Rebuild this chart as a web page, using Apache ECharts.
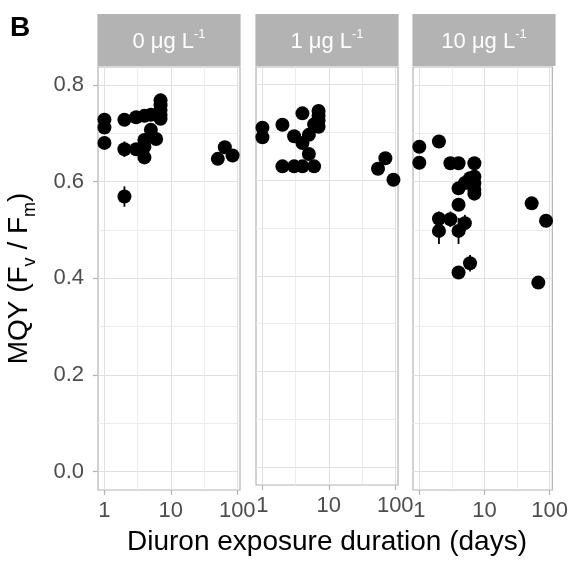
<!DOCTYPE html>
<html>
<head>
<meta charset="utf-8">
<script src="https://cdn.jsdelivr.net/npm/echarts@6/dist/echarts.min.js"></script>
<style>
  html, body { margin: 0; padding: 0; background: #fff; }
  #main { width: 571px; height: 561px; }
</style>
</head>
<body>
<div id="main"></div>
<script>
// facet labels (shown as "<conc> μg L^-1")
var concLabels = ['0', '1', '10'];

// 0 μg/L
var days0 = [1, 1, 1, 2, 2, 2, 3, 3, 4, 4, 4, 4, 5, 5, 6, 7, 7, 7, 7, 7, 51, 65, 85];
var mqy0 = [0.728, 0.712, 0.680, 0.728, 0.667, 0.569, 0.733, 0.667, 0.736, 0.686, 0.672, 0.650,
            0.738, 0.707, 0.688, 0.768, 0.758, 0.748, 0.738, 0.730, 0.647, 0.671, 0.654];
var err0 = [0.014, 0, 0, 0, 0.016, 0.021, 0, 0.012, 0, 0, 0.010, 0,
            0, 0, 0.012, 0, 0, 0, 0, 0, 0, 0, 0];

// 1 μg/L
var days1 = [1, 1, 2, 2, 3, 3, 4, 4, 4, 5, 5, 6, 6, 7, 7, 7, 7, 55, 71, 94];
var mqy1 = [0.710, 0.690, 0.716, 0.629, 0.692, 0.629, 0.740, 0.678, 0.629, 0.695, 0.655,
            0.629, 0.717, 0.745, 0.735, 0.725, 0.712, 0.624, 0.646, 0.601];
var err1 = [0, 0, 0, 0, 0, 0, 0, 0, 0, 0, 0, 0, 0, 0, 0, 0, 0, 0, 0, 0];

// 10 μg/L
var days10 = [1, 1, 2, 2, 2, 3, 3, 4, 4, 4, 4, 4, 5, 5, 6, 6, 7, 7, 7, 7, 7, 53, 67, 88];
var mqy10 = [0.672, 0.639, 0.683, 0.523, 0.498, 0.638, 0.522, 0.638, 0.586, 0.552, 0.498, 0.412,
             0.597, 0.514, 0.607, 0.431, 0.638, 0.610, 0.597, 0.583, 0.575, 0.555, 0.391, 0.519];
var err10 = [0, 0.008, 0, 0.015, 0.027, 0, 0.016, 0, 0, 0, 0.027, 0,
             0, 0.017, 0, 0.017, 0, 0, 0, 0, 0, 0, 0, 0];

var xMajor = [1, 10, 100];
var xMinor = [3.1623, 31.623];
var yMajor = [0, 0.2, 0.4, 0.6, 0.8];
var yMinor = [0.1, 0.3, 0.5, 0.7];

var panels = [
    {days: days0, mqy: mqy0, err: err0},
    {days: days1, mqy: mqy1, err: err1},
    {days: days10, mqy: mqy10, err: err10}
];

var font = 'Liberation Sans, Arial, sans-serif';
var lefts = [98, 256, 413];
var panelW = 142, panelTop = 67, panelH = 423;

var grids = [], xAxes = [], yAxes = [], series = [], graphics = [];

panels.forEach(function(p, i) {
    grids.push({
        left: lefts[i], top: panelTop, width: panelW, height: panelH,
        show: true, borderColor: '#b3b3b3', borderWidth: 1.2, backgroundColor: '#fff'
    });
    // major x
    xAxes.push({
        type: 'log', logBase: 10, gridIndex: i, min: 0.8, max: 110,
        axisLine: {show: false, onZero: false},
        axisTick: {show: true, customValues: xMajor, length: 5, lineStyle: {color: '#b3b3b3', width: 1.2}},
        axisLabel: {show: true, customValues: xMajor, margin: 10, color: '#4d4d4d', fontSize: 22, fontFamily: font,
                    formatter: function(v) { return String(Math.round(v)); }},
        splitLine: {show: true, lineStyle: {color: '#e0e0e0', width: 1}},
        name: i === 1 ? 'Diuron exposure duration (days)' : '',
        nameLocation: 'middle', nameGap: 43,
        nameTextStyle: {color: '#000', fontSize: 28, fontFamily: font}
    });
    // minor x grid
    xAxes.push({
        type: 'log', logBase: 10, gridIndex: i, min: 0.8, max: 110,
        axisLine: {show: false, onZero: false},
        axisTick: {show: false, customValues: xMinor},
        axisLabel: {show: false},
        splitLine: {show: true, lineStyle: {color: '#ececec', width: 1}}
    });
    yAxes.push({
        type: 'value', gridIndex: i, min: -0.038, max: 0.837,
        axisLine: {show: false, onZero: false},
        axisTick: {show: i === 0, customValues: yMajor, length: 5, lineStyle: {color: '#b3b3b3', width: 1.2}},
        axisLabel: {show: i === 0, customValues: yMajor, margin: 14, color: '#4d4d4d', fontSize: 22, fontFamily: font,
                    formatter: function(v) { return v.toFixed(1); }},
        splitLine: {show: true, lineStyle: {color: '#e0e0e0', width: 1}},
        name: i === 0 ? '{t|MQY (F}{s|v}{t| / F}{s|m}{t|)}' : '',
        nameLocation: 'middle', nameGap: 59,
        nameTextStyle: {
            rich: {
                t: {fontSize: 28, fontFamily: font, color: '#000', lineHeight: 34, verticalAlign: 'top'},
                s: {fontSize: 18, fontFamily: font, color: '#000', lineHeight: 18, verticalAlign: 'bottom'}
            }
        }
    });
    yAxes.push({
        type: 'value', gridIndex: i, min: -0.038, max: 0.837,
        axisLine: {show: false, onZero: false},
        axisTick: {show: false, customValues: yMinor},
        axisLabel: {show: false},
        splitLine: {show: true, lineStyle: {color: '#ececec', width: 1}}
    });

    var pts = p.days.map(function(d, k) { return [d, p.mqy[k], p.err[k]]; });

    series.push({
        type: 'custom',
        xAxisIndex: i * 2, yAxisIndex: i * 2,
        data: pts.filter(function(q) { return q[2] > 0; }),
        renderItem: function(params, api) {
            var lo = api.coord([api.value(0), api.value(1) - api.value(2)]);
            var hi = api.coord([api.value(0), api.value(1) + api.value(2)]);
            return {
                type: 'line',
                shape: {x1: lo[0], y1: lo[1], x2: hi[0], y2: hi[1]},
                style: {stroke: '#000', lineWidth: 1.8}
            };
        },
        z: 3
    });
    series.push({
        type: 'scatter',
        xAxisIndex: i * 2, yAxisIndex: i * 2,
        data: pts.map(function(q) { return [q[0], q[1]]; }),
        symbolSize: 14,
        itemStyle: {color: '#000', opacity: 1},
        z: 4
    });

    // facet strip
    graphics.push({
        type: 'rect',
        shape: {x: lefts[i] - 0.6, y: 14, width: panelW + 1.2, height: 52},
        style: {fill: '#b3b3b3'}
    });
    graphics.push({
        type: 'text',
        x: lefts[i] + panelW / 2, y: 40,
        style: {
            text: '{n|' + concLabels[i] + ' μg L}{s|-1}',
            align: 'center', verticalAlign: 'middle',
            rich: {
                n: {fontSize: 22, fontFamily: font, fill: '#fff', lineHeight: 25, verticalAlign: 'bottom'},
                s: {fontSize: 13, fontFamily: font, fill: '#fff', lineHeight: 13, verticalAlign: 'top'}
            }
        }
    });
});

graphics.push({
    type: 'text', x: 10, y: 14,
    style: {text: 'B', fontSize: 28, fontWeight: 'bold', fontFamily: font, fill: '#000'}
});

var chart = echarts.init(document.getElementById('main'), null, {renderer: 'canvas'});
chart.setOption({
    animation: false,
    grid: grids,
    xAxis: xAxes,
    yAxis: yAxes,
    series: series,
    graphic: graphics
});
</script>
</body>
</html>
